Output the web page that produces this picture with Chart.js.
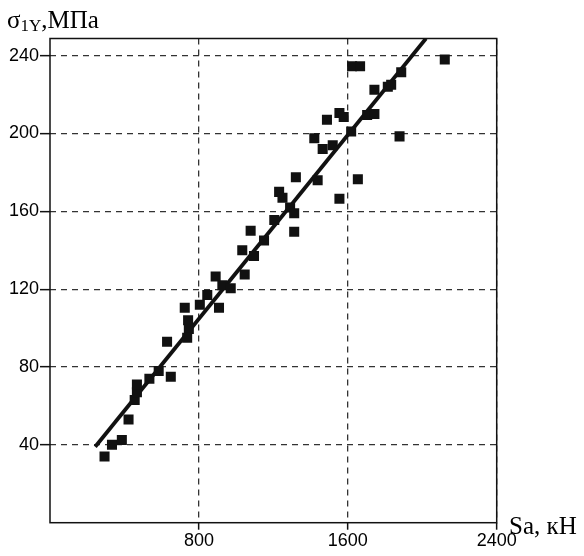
<!DOCTYPE html>
<html>
<head>
<meta charset="utf-8">
<style>
  html, body { margin: 0; padding: 0; background: #fff; }
  #wrap { width: 584px; height: 556px; }
</style>
<script src="https://cdn.jsdelivr.net/npm/chart.js@4/dist/chart.umd.min.js"></script>
</head>
<body>
<div id="wrap"><canvas id="c" width="584" height="556"></canvas></div>
<script>
// Measured points: axial load Sa (kN) and stress σ1Y (MPa)
const loadKN = [
  293, 333, 386, 422, 455, 467, 467, 534, 584, 649,
  629, 724, 742, 746, 737, 805, 845, 908, 890, 926,
  971, 1046, 1033, 1096, 1078, 1150, 1205, 1231, 1249, 1290,
  1312, 1312, 1321, 1438, 1555, 1654, 1420, 1465, 1519, 1488,
  1555, 1578, 1618, 1704, 1743, 1623, 1666, 1887, 1743, 1815,
  1833, 1878, 2121
];
const stressMPa = [
  34, 40, 42.5, 53, 63, 67, 71, 74, 78, 75,
  93, 110.5, 104, 99.5, 95, 112, 117, 110.5, 126.5, 122,
  120.5, 127.5, 140, 137, 150, 145, 155.5, 170, 167, 162,
  159, 149.5, 177.5, 176, 166.5, 176.5, 197.5, 192, 194, 207,
  210.5, 208.5, 201, 209.5, 210, 234.5, 234.5, 231.5, 222.5, 224,
  225, 198.5, 238
];

// Straight-line fit, given by its two end points
const fitKN = [243, 2020];
const fitMPa = [39, 248.8];

// Axis ticks
const xTickValues = [800, 1600, 2400];
const yTickValues = [40, 80, 120, 160, 200, 240];

const scatterPts = loadKN.map((x, i) => ({ x, y: stressMPa[i] }));
const fitPts = fitKN.map((x, i) => ({ x, y: fitMPa[i] }));

const INK = '#111';
const GRID = '#333';
const SERIF = '"Liberation Serif", "Times New Roman", serif';

// Box around the plot area and the two axis captions
const frameAndTitles = {
  id: 'frameAndTitles',
  afterDraw(chart) {
    const { ctx, chartArea: a } = chart;
    ctx.save();
    ctx.strokeStyle = INK;
    ctx.lineWidth = 1.5;
    ctx.setLineDash([]);
    ctx.strokeRect(a.left, a.top, a.right - a.left, a.bottom - a.top);

    ctx.fillStyle = '#000';
    ctx.textBaseline = 'alphabetic';
    ctx.textAlign = 'left';
    let x = 7;
    ctx.font = '25px ' + SERIF;
    ctx.fillText('σ', x, 28);
    x += ctx.measureText('σ').width;
    ctx.font = '17px ' + SERIF;
    ctx.fillText('1Y', x, 31);
    x += ctx.measureText('1Y').width;
    ctx.font = '25px ' + SERIF;
    ctx.fillText(',МПа', x, 28);

    ctx.font = '25px ' + SERIF;
    ctx.fillText('Sa, кН', 509, 534);
    ctx.restore();
  }
};

const tickFont = { family: '"Liberation Sans", Arial, sans-serif', size: 18 };

new Chart(document.getElementById('c'), {
  type: 'scatter',
  data: {
    datasets: [
      {
        type: 'line',
        data: fitPts,
        borderColor: INK,
        borderWidth: 3.8,
        pointRadius: 0,
        fill: false,
        order: 2
      },
      {
        data: scatterPts,
        pointStyle: 'rect',
        pointRadius: 7.1,
        pointHoverRadius: 7.1,
        backgroundColor: INK,
        borderWidth: 0,
        order: 1
      }
    ]
  },
  options: {
    responsive: false,
    animation: false,
    devicePixelRatio: 1,
    layout: { padding: { top: 38.5, right: 87.3, left: 0, bottom: 0 } },
    plugins: { legend: { display: false }, tooltip: { enabled: false } },
    scales: {
      x: {
        type: 'linear',
        min: 0,
        max: 2400,
        afterBuildTicks: s => { s.ticks = xTickValues.map(v => ({ value: v })); },
        afterFit: s => { s.height = 33.3; },
        ticks: { color: '#000', font: tickFont, padding: 1, maxRotation: 0, autoSkip: false, callback: v => String(v) },
        grid: { color: GRID, lineWidth: 1.3, tickLength: 7, tickColor: INK, tickWidth: 1.5, tickBorderDash: [] },
        border: { display: false, dash: [6, 5] }
      },
      y: {
        type: 'linear',
        min: 0,
        max: 248.8,
        afterBuildTicks: s => { s.ticks = yTickValues.map(v => ({ value: v })); },
        afterFit: s => { s.width = 50; },
        ticks: { color: '#000', font: tickFont, padding: 1, autoSkip: false, callback: v => String(v) },
        grid: { color: GRID, lineWidth: 1.3, tickLength: 10, tickColor: INK, tickWidth: 1.5, tickBorderDash: [] },
        border: { display: false, dash: [6, 5] }
      }
    }
  },
  plugins: [frameAndTitles]
});
</script>
</body>
</html>
